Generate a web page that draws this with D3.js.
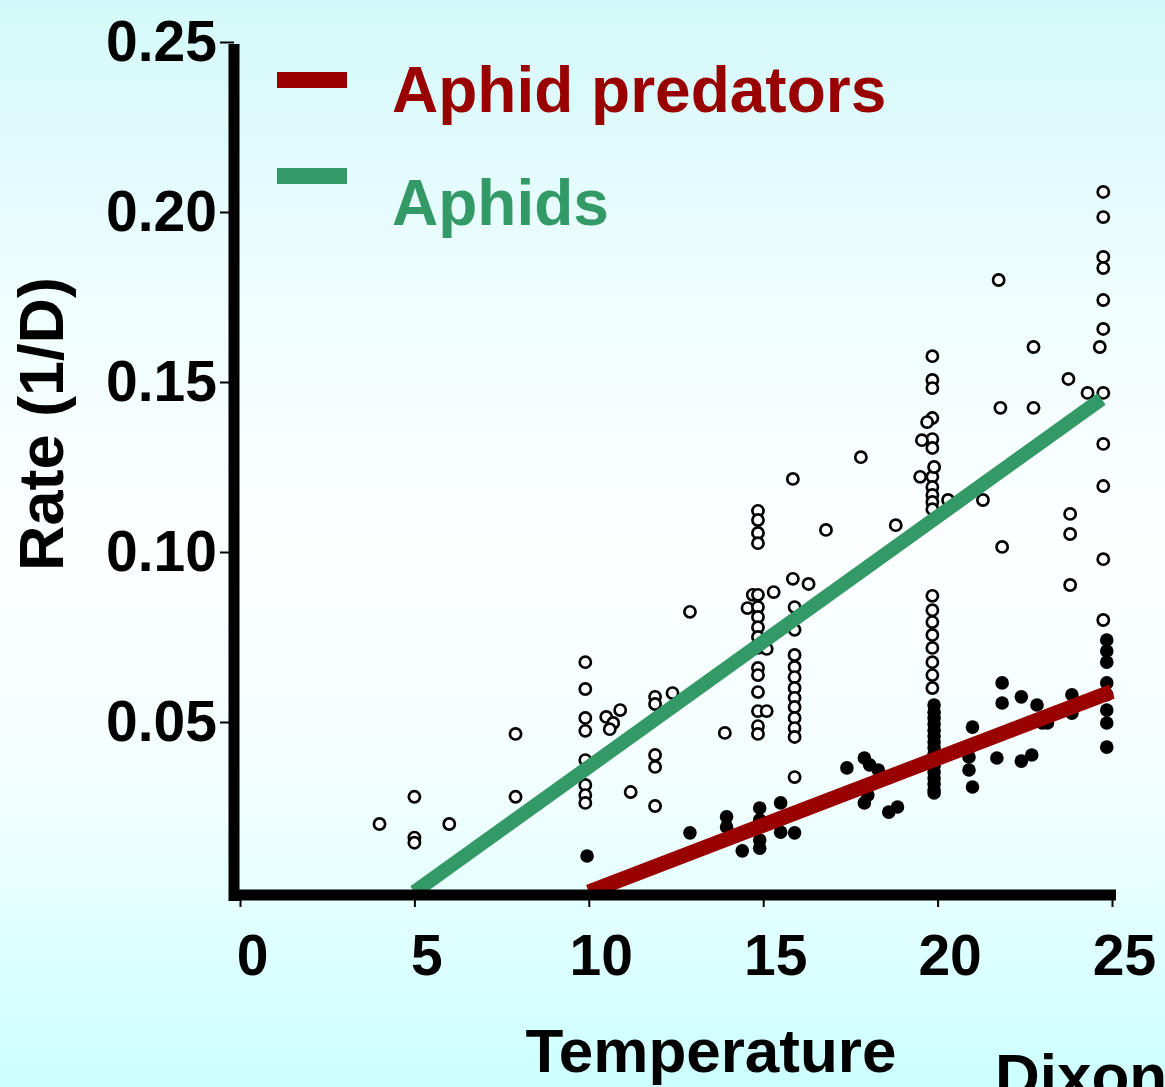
<!DOCTYPE html>
<html lang="en">
    <head>
        <meta charset="utf-8">
        <title>Rate vs temperature, aphids and aphid predators</title>
        <script type="text/javascript" src="https://cdn.jsdelivr.net/npm/d3@7"></script>
        <style>
            body { margin: 0; padding: 0; overflow: hidden; }
            text { font-family: "Liberation Sans", Arial, sans-serif; font-weight: bold; }
        </style>
    </head>
    <body>
        <div class="chart"></div>
        <script type="text/javascript">
            // data: [temperature, rate]
            var aphids = [
                [4.0, 0.020], [5.0, 0.028], [5.0, 0.016], [5.0, 0.0145], [6.0, 0.020],
                [7.9, 0.0465], [7.9, 0.028],
                [9.9, 0.0676], [9.9, 0.0597], [9.9, 0.0512], [9.9, 0.0474], [9.9, 0.0388], [9.9, 0.0315], [9.9, 0.0285], [9.9, 0.0262],
                [10.5, 0.0515], [10.9, 0.0535], [10.7, 0.0497], [10.6, 0.0479],
                [11.9, 0.0574], [11.9, 0.0553], [12.4, 0.0585], [11.9, 0.0403], [11.9, 0.0368], [11.2, 0.0294], [11.9, 0.0253],
                [12.9, 0.0824], [13.9, 0.0468],
                [17.8, 0.1279], [15.85, 0.1215],
                [14.85, 0.1121], [14.85, 0.1094], [14.85, 0.1056], [14.85, 0.1026],
                [16.8, 0.1065], [18.8, 0.1079], [15.85, 0.0921], [16.3, 0.0906],
                [14.7, 0.0874], [15.3, 0.0882], [14.55, 0.0835],
                [14.85, 0.0874], [14.85, 0.0838], [14.85, 0.0809], [14.85, 0.0779], [14.85, 0.075], [14.85, 0.0718],
                [14.85, 0.0659], [14.85, 0.0638], [14.85, 0.0588], [14.85, 0.0532], [14.85, 0.0488], [14.85, 0.0465],
                [15.1, 0.0532], [15.1, 0.0715],
                [15.9, 0.0838], [15.9, 0.0771], [15.9, 0.0697], [15.9, 0.0662], [15.9, 0.0632], [15.9, 0.0600], [15.9, 0.0571],
                [15.9, 0.0544], [15.9, 0.0512], [15.9, 0.0482], [15.9, 0.0456], [15.9, 0.0338],
                [19.85, 0.1576], [19.85, 0.1506], [19.85, 0.1482], [19.85, 0.1394], [19.85, 0.1332], [19.85, 0.1306],
                [19.85, 0.1221], [19.85, 0.1191], [19.85, 0.1168], [19.85, 0.1147], [19.85, 0.1126],
                [19.85, 0.0871], [19.85, 0.0829], [19.85, 0.0794], [19.85, 0.0756], [19.85, 0.0718], [19.85, 0.0676], [19.85, 0.0638], [19.85, 0.0600],
                [19.7, 0.1382], [19.55, 0.1329], [19.9, 0.125], [19.5, 0.1221],
                [20.3, 0.1153], [21.3, 0.1153], [21.75, 0.180], [21.8, 0.1424], [21.85, 0.1015],
                [22.75, 0.1603], [22.75, 0.1424], [23.75, 0.1509], [23.8, 0.1112], [23.8, 0.1053], [23.8, 0.0903], [24.3, 0.1468],
                [24.75, 0.2059], [24.75, 0.1985], [24.75, 0.1868], [24.75, 0.1835], [24.75, 0.1741], [24.75, 0.1656],
                [24.75, 0.1468], [24.75, 0.1318], [24.75, 0.1194], [24.75, 0.0979], [24.75, 0.080], [24.65, 0.1603]
            ];
            var predators = [
                [9.95, 0.0106], [12.9, 0.0174], [13.95, 0.0221], [13.95, 0.0191], [14.4, 0.0121],
                [14.9, 0.0247], [14.9, 0.0212], [14.9, 0.0153], [14.9, 0.0129],
                [15.5, 0.0262], [15.5, 0.0176], [15.9, 0.0174],
                [17.4, 0.0365], [17.9, 0.0394], [18.05, 0.0374], [18.3, 0.0359], [18.0, 0.0285], [17.9, 0.0262],
                [18.6, 0.0235], [18.85, 0.025],
                [19.9, 0.055], [19.9, 0.0529], [19.9, 0.0512], [19.9, 0.0494], [19.9, 0.0476], [19.9, 0.0459],
                [19.9, 0.0441], [19.9, 0.0424], [19.9, 0.0406], [19.9, 0.0388], [19.9, 0.0371], [19.9, 0.0353],
                [19.9, 0.0335], [19.9, 0.0318], [19.9, 0.030], [19.9, 0.0291],
                [21.0, 0.0485], [20.9, 0.0397], [20.9, 0.0359], [21.0, 0.0309], [21.7, 0.0394],
                [21.85, 0.0615], [21.85, 0.0556], [22.4, 0.0574], [22.85, 0.055], [23.0, 0.0497], [23.15, 0.0497],
                [22.4, 0.0385], [22.7, 0.0403], [23.85, 0.058], [23.85, 0.0526],
                [24.85, 0.0741], [24.85, 0.0709], [24.85, 0.0676], [24.85, 0.0615], [24.85, 0.058],
                [24.85, 0.0535], [24.85, 0.0497], [24.85, 0.0426]
            ];
            // fitted lines, two end points each
            var aphidLine = [[5, 0], [24.7, 0.145]];
            var predatorLine = [[10, 0], [25, 0.059]];
            var xTicks = [0, 5, 10, 15, 20, 25];
            var yTicks = [0.05, 0.10, 0.15, 0.20, 0.25];
            var legendNames = ["Aphid predators", "Aphids"];
            var legendColors = ["#990000", "#339966"];

            var w = 1165;
            var h = 1087;

            var svg = d3.select("body div.chart")
                        .append("svg")
                        .attr("width", w)
                        .attr("height", h);

            // light cyan background, fading to white in the middle
            var grad = svg.append("defs").append("linearGradient")
                          .attr("id", "bg")
                          .attr("x1", 0).attr("y1", 0).attr("x2", 0).attr("y2", 1);
            grad.append("stop").attr("offset", "0%").attr("stop-color", "#d4f8f9");
            grad.append("stop").attr("offset", "30%").attr("stop-color", "#f1fefe");
            grad.append("stop").attr("offset", "50%").attr("stop-color", "#fdffff");
            grad.append("stop").attr("offset", "72%").attr("stop-color", "#f3ffff");
            grad.append("stop").attr("offset", "100%").attr("stop-color", "#ccffff");
            svg.append("rect").attr("width", w).attr("height", h).attr("fill", "url(#bg)");

            var x = d3.scaleLinear().domain([0, 25]).range([240, 1112]);
            var y = d3.scaleLinear().domain([0, 0.25]).range([892, 42]);

            // axes (thin ticks from d3, thick line drawn over)
            var yAxis = svg.append("g")
                           .attr("transform", "translate(234,0)")
                           .call(d3.axisLeft(y).tickValues(yTicks).tickFormat(d3.format(".2f")).tickSize(14).tickPadding(3));
            yAxis.select(".domain").remove();
            yAxis.selectAll("line").attr("stroke-width", 2);
            yAxis.selectAll("text").attr("font-size", "57px").attr("fill", "black");

            var xAxis = svg.append("g")
                           .attr("transform", "translate(0,895)")
                           .call(d3.axisBottom(x).tickValues(xTicks).tickFormat(d3.format("d")).tickSize(12).tickPadding(28));
            xAxis.select(".domain").remove();
            xAxis.selectAll("line").attr("stroke-width", 2);
            xAxis.selectAll("text").attr("font-size", "57px").attr("fill", "black").attr("dx", 12);

            // points
            svg.selectAll("circle.aphid")
               .data(aphids)
               .enter()
               .append("circle")
               .attr("class", "aphid")
               .attr("cx", function(d){ return x(d[0]); })
               .attr("cy", function(d){ return y(d[1]); })
               .attr("r", 5.6)
               .attr("fill", "white")
               .attr("stroke", "black")
               .attr("stroke-width", 2.7);
            svg.selectAll("circle.pred")
               .data(predators)
               .enter()
               .append("circle")
               .attr("class", "pred")
               .attr("cx", function(d){ return x(d[0]); })
               .attr("cy", function(d){ return y(d[1]); })
               .attr("r", 6.8)
               .attr("fill", "black");

            // regression lines
            var line = d3.line()
                         .x(function(d){ return x(d[0]); })
                         .y(function(d){ return y(d[1]); });
            svg.append("path").attr("d", line(aphidLine))
               .attr("stroke", legendColors[1]).attr("stroke-width", 14).attr("fill", "none");
            svg.append("path").attr("d", line(predatorLine))
               .attr("stroke", legendColors[0]).attr("stroke-width", 15).attr("fill", "none");

            // thick axis lines
            svg.append("line").attr("x1", 234).attr("x2", 234).attr("y1", 44).attr("y2", 901)
               .attr("stroke", "black").attr("stroke-width", 11);
            svg.append("line").attr("x1", 229).attr("x2", 1116).attr("y1", 895).attr("y2", 895)
               .attr("stroke", "black").attr("stroke-width", 11);

            // legend
            var legend = svg.selectAll("g.legend")
                            .data(legendNames)
                            .enter()
                            .append("g")
                            .attr("class", "legend")
                            .attr("transform", function(d, i){ return "translate(0," + (i * 96) + ")"; });
            legend.append("rect")
                  .attr("x", 277).attr("y", 72)
                  .attr("width", 70).attr("height", 16)
                  .attr("fill", function(d, i){ return legendColors[i]; });
            legend.append("text")
                  .attr("x", 392).attr("y", function(d, i){ return 112 + i * 17; })
                  .attr("font-size", "64px")
                  .attr("fill", function(d, i){ return legendColors[i]; })
                  .text(function(d){ return d; });

            // axis titles
            svg.append("text")
               .attr("transform", "translate(63,424) rotate(-90)")
               .attr("text-anchor", "middle")
               .attr("font-size", "63px")
               .text("Rate (1/D)");
            svg.append("text")
               .attr("x", 711).attr("y", 1072)
               .attr("text-anchor", "middle")
               .attr("font-size", "62px")
               .text("Temperature");
            // credit, cut by the right edge as in the original slide
            svg.append("text")
               .attr("x", 995).attr("y", 1097)
               .attr("font-size", "62px")
               .text("Dixon");
        </script>
    </body>
</html>
